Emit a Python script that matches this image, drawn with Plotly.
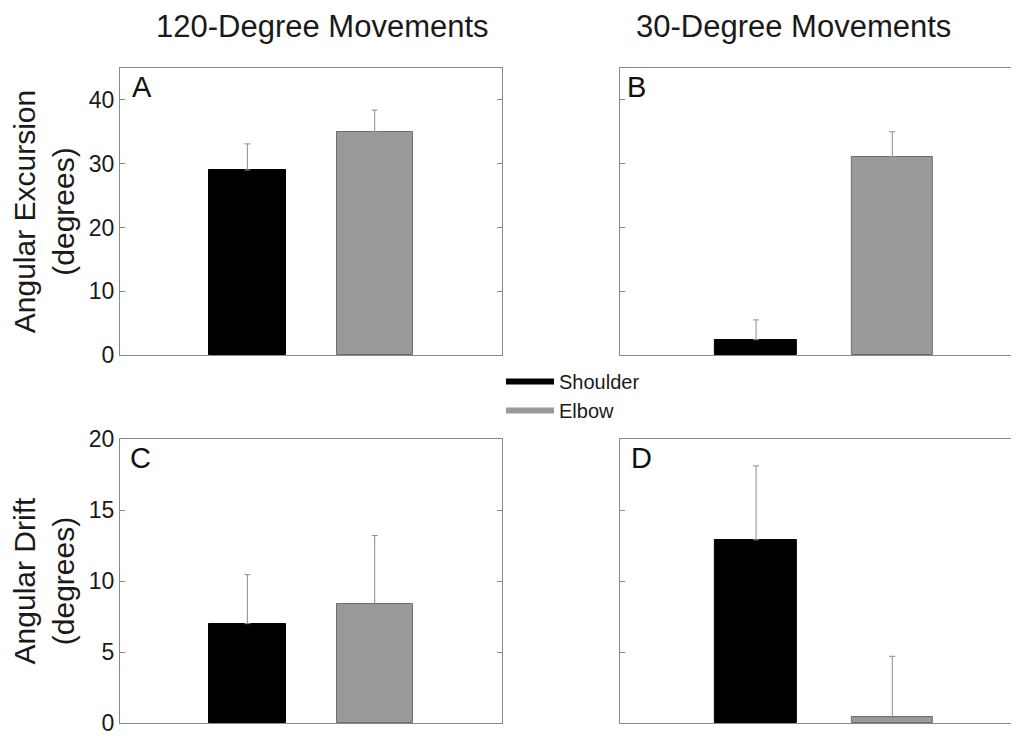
import plotly.graph_objects as go

# ---- data ----
joints = ["Shoulder", "Elbow"]
bar_colors = ["#000000", "#9a9a9a"]
edge_colors = ["#000000", "#6e6e6e"]

excursion_120 = [29.0, 35.0]
excursion_120_err = [4.1, 3.4]
excursion_30 = [2.4, 31.1]
excursion_30_err = [3.1, 3.9]

drift_120 = [7.0, 8.35]
drift_120_err = [3.45, 4.85]
drift_30 = [12.9, 0.4]
drift_30_err = [5.2, 4.3]

column_titles = ["120-Degree Movements", "30-Degree Movements"]
panel_letters = ["A", "B", "C", "D"]
excursion_ticks = [0, 10, 20, 30, 40]
drift_ticks = [0, 5, 10, 15, 20]

FONT = "Liberation Sans, Arial, Helvetica, sans-serif"
AXIS_COLOR = "#8a8a8a"
ERR_COLOR = "#8c8c8c"
TEXT_COLOR = "#1a1a1a"

panels = [
    (excursion_120, excursion_120_err, "x", "y"),
    (excursion_30, excursion_30_err, "x2", "y2"),
    (drift_120, drift_120_err, "x3", "y3"),
    (drift_30, drift_30_err, "x4", "y4"),
]

fig = go.Figure()
for vals, errs, xa, ya in panels:
    fig.add_trace(go.Bar(
        x=joints, y=vals, width=0.6,
        marker=dict(color=bar_colors, line=dict(color=edge_colors, width=1)),
        error_y=dict(type="data", symmetric=False, array=errs,
                     arrayminus=[0] * len(errs), color=ERR_COLOR,
                     thickness=1, width=3),
        xaxis=xa, yaxis=ya, showlegend=False, hoverinfo="x+y",
    ))

# legend entries drawn as thick line samples
for name, col in zip(joints, bar_colors):
    fig.add_trace(go.Scatter(x=[None], y=[None], mode="lines", name=name,
                             line=dict(color=col, width=6), xaxis="x", yaxis="y"))

left_dom = [0.0, 0.425]
right_dom = [0.556, 1.0]
top_dom = [0.5645, 1.0]
bot_dom = [0.006, 0.437]

def xax(domain, anchor, rng):
    return dict(domain=domain, anchor=anchor, range=rng, type="category",
                showticklabels=False, ticks="", showgrid=False, zeroline=False,
                showline=True, linecolor=AXIS_COLOR, linewidth=1, mirror=True,
                fixedrange=True)

def yax(domain, anchor, rng, ticks, labels, title=None):
    d = dict(domain=domain, anchor=anchor, range=rng, tickvals=ticks,
             showticklabels=labels, ticks="inside", ticklen=5, tickwidth=1,
             tickcolor=AXIS_COLOR, showgrid=False, zeroline=False,
             showline=True, linecolor=AXIS_COLOR, linewidth=1, mirror="ticks",
             tickfont=dict(size=23, color=TEXT_COLOR, family=FONT),
             ticklabeloverflow="allow", automargin=False,
             fixedrange=True)
    if title:
        d["title"] = dict(text=title, font=dict(size=30, color=TEXT_COLOR, family=FONT),
                          standoff=8)
    return d

annotations = []
for txt, xp in zip(column_titles, [0.2247, 0.7497]):
    annotations.append(dict(text=txt, x=xp, y=1.0637, xref="paper", yref="paper",
                            xanchor="center", yanchor="middle", showarrow=False,
                            font=dict(size=31, color=TEXT_COLOR, family=FONT)))
letter_axes = [("x", "y"), ("x2", "y2"), ("x3", "y3"), ("x4", "y4")]
letter_x = [0.025, 0.0125, 0.022, 0.024]
for letter, (xa, ya), lx in zip(panel_letters, letter_axes, letter_x):
    annotations.append(dict(text=letter, x=lx, y=0.995,
                            xref=f"{xa} domain", yref=f"{ya} domain",
                            xanchor="left", yanchor="top", showarrow=False,
                            font=dict(size=29, color="#111111", family=FONT)))

fig.update_layout(
    width=1019, height=737,
    margin=dict(l=112, r=8, t=60, b=18),
    paper_bgcolor="white", plot_bgcolor="white",
    font=dict(family=FONT, color=TEXT_COLOR),
    bargap=0,
    xaxis=xax(left_dom, "y", [-1, 2]),
    xaxis2=xax(right_dom, "y2", [-1, 1.93]),
    xaxis3=xax(left_dom, "y3", [-1, 2]),
    xaxis4=xax(right_dom, "y4", [-1, 1.93]),
    yaxis=yax(top_dom, "x", [0, 45], excursion_ticks, True, "Angular Excursion<br>(degrees)"),
    yaxis2=yax(top_dom, "x2", [0, 45], excursion_ticks, False),
    yaxis3=yax(bot_dom, "x3", [0, 20], drift_ticks, True, "Angular Drift<br>(degrees)"),
    yaxis4=yax(bot_dom, "x4", [0, 20], drift_ticks, False),
    annotations=annotations,
    showlegend=True,
    legend=dict(x=0.4238, y=0.554, xanchor="left", yanchor="top",
                bgcolor="rgba(0,0,0,0)", tracegroupgap=0, itemwidth=48,
                font=dict(size=20, color=TEXT_COLOR, family=FONT)),
)

fig.write_html("out.html")
